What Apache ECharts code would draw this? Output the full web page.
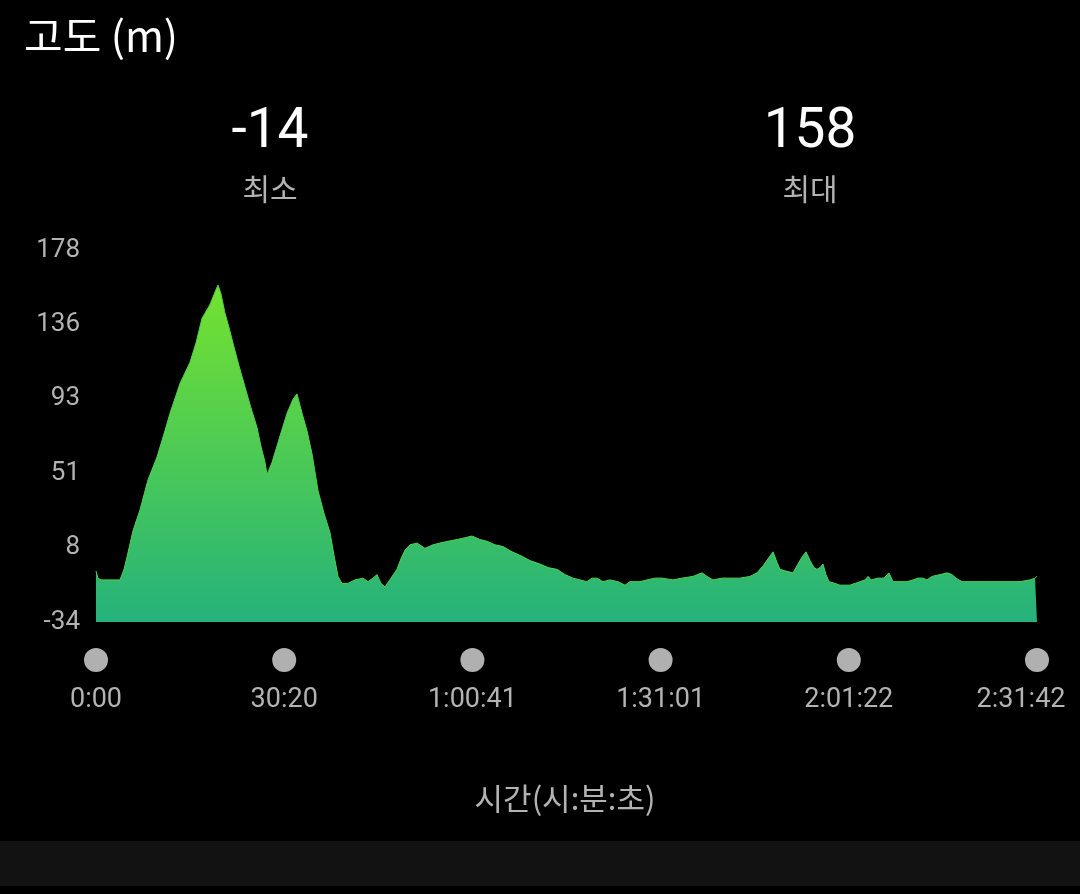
<!DOCTYPE html>
<html>
<head>
<meta charset="utf-8">
<script src="https://cdn.jsdelivr.net/npm/echarts@6/dist/echarts.min.js"></script>
<style>
html,body{margin:0;padding:0;background:#000;}
#c{width:1080px;height:894px;}
</style>
</head>
<body>
<div id="c"></div>
<script>
// elapsed time in seconds
var times = [0,19,48,135,232,271,300,358,426,503,590,667,716,813,909,967,1025,1054,1103,1151,1180,1209,1248,1286,1325,1383,1441,1499,1557,1596,1635,1654,1703,1780,1848,1906,1944,1993,2041,2089,2147,2205,2263,2302,2341,2379,2437,2505,2583,2631,2679,2718,2757,2795,2853,2911,2950,2989,3037,3105,3182,3260,3327,3405,3492,3569,3637,3714,3782,3859,3937,4024,4101,4198,4295,4372,4459,4537,4614,4682,4749,4798,4846,4904,4972,5049,5117,5165,5262,5330,5407,5475,5581,5668,5775,5862,5910,5968,6055,6133,6229,6326,6394,6452,6500,6549,6587,6616,6674,6742,6790,6829,6868,6907,6945,6974,7003,7032,7061,7090,7148,7196,7293,7390,7439,7468,7497,7516,7564,7622,7670,7709,7777,7845,7903,7951,8000,8038,8087,8164,8232,8280,8319,8377,8503,8648,8793,8938,9035,9083,9102];
// elevation in metres
var elevation = [-5,-9,-10,-10,-10,-4,3,18,30,47,60,75,85,102,114,125,139,142,147,154,158,153,142,134,125,112,100,88,77,66,57,50,57,72,85,93,96,85,75,62,41,28,17,4,-8,-12,-12,-10,-9,-11,-9,-7,-12,-14,-9,-4,2,7,10,11,8,10,11,12,13,14,15,13,12,10,9,6,4,1,-1,-3,-4,-7,-9,-10,-11,-9,-9,-11,-10,-11,-13,-11,-11,-10,-9,-9,-10,-9,-8,-6,-8,-10,-9,-9,-9,-8,-6,-2,2,6,0,-4,-5,-6,-1,3,6,1,-3,-4,-3,-1,-7,-11,-12,-13,-13,-11,-10,-8,-10,-11,-9,-9,-6,-11,-11,-11,-10,-9,-9,-10,-8,-7,-6,-7,-9,-11,-11,-11,-11,-11,-10,-9,-8];
var yTickLabels = ['-34','8','51','93','136','178'];
var xTickLabels = ['0:00','30:20','1:00:41','1:31:01','2:01:22','2:31:42'];
var minLabel = '-14', maxLabel = '158';

var data = times.map(function(t,i){return [t, elevation[i]];});
var yMin = -34, yMax = 178, yStep = (yMax - yMin) / 5;
var xMax = 9102, xStep = xMax / 5;

var chart = echarts.init(document.getElementById('c'));
var FF = 'Roboto, "Noto Sans CJK KR", sans-serif';
var KF = '"Noto Sans CJK KR", Roboto, sans-serif';
chart.setOption({
  backgroundColor: '#000',
  animation: false,
  grid: {left: 96, right: 43, top: 250, bottom: 272, containLabel: false, outerBoundsMode: 'none'},
  xAxis: {
    type: 'value', min: 0, max: xMax, interval: xStep,
    axisLine: {show: false}, axisTick: {show: false}, splitLine: {show: false},
    axisLabel: {
      margin: 26, showMinLabel: true, showMaxLabel: true, hideOverlap: false,
      formatter: function(v){
        var i = Math.round(v / xStep);
        var tag = (i === 5) ? 'tl' : 't';
        return '{dot|}\n{' + tag + '|' + xTickLabels[i] + '}';
      },
      rich: {
        dot: {width: 24, height: 24, borderRadius: 12, backgroundColor: '#b0b0b0', lineHeight: 24},
        t: {fontSize: 27, color: '#b3b3b3', fontFamily: FF, lineHeight: 56},
        tl: {fontSize: 27, color: '#b3b3b3', fontFamily: FF, lineHeight: 56, padding: [0, 32, 0, 0]}
      }
    }
  },
  yAxis: {
    type: 'value', min: yMin, max: yMax, interval: yStep,
    axisLine: {show: false}, axisTick: {show: false}, splitLine: {show: false},
    axisLabel: {
      margin: 16, fontSize: 26, color: '#b3b3b3', fontFamily: FF, padding: [5, 0, 0, 0],
      formatter: function(v){ return yTickLabels[Math.round((v - yMin) / yStep)]; }
    }
  },
  series: [{
    type: 'line', data: data, symbol: 'none', smooth: false,
    lineStyle: {width: 1, color: '#4fd24c'},
    areaStyle: {
      origin: 'start',
      opacity: 1,
      color: new echarts.graphic.LinearGradient(0, 0, 0, 1, [
        {offset: 0, color: '#74e22f'},
        {offset: 1, color: '#25b27b'}
      ])
    }
  }],
  graphic: [
    {type: 'text', left: 24, top: 15, style: {text: '고도 (m)', fontSize: 42, fill: '#ffffff', fontFamily: KF}},
    {type: 'text', x: 270, y: 133, style: {text: minLabel, fontSize: 55, fill: '#ffffff', fontFamily: FF, align: 'center', verticalAlign: 'middle'}},
    {type: 'text', x: 270, y: 189, style: {text: '최소', fontSize: 30, fill: '#b3b3b3', fontFamily: KF, align: 'center', verticalAlign: 'middle'}},
    {type: 'text', x: 810, y: 133, style: {text: maxLabel, fontSize: 55, fill: '#ffffff', fontFamily: FF, align: 'center', verticalAlign: 'middle'}},
    {type: 'text', x: 810, y: 189, style: {text: '최대', fontSize: 30, fill: '#b3b3b3', fontFamily: KF, align: 'center', verticalAlign: 'middle'}},
    {type: 'text', x: 565, y: 798, style: {text: '시간(시:분:초)', fontSize: 31, fill: '#b3b3b3', fontFamily: KF, align: 'center', verticalAlign: 'middle'}},
    {type: 'rect', shape: {x: 0, y: 841, width: 1080, height: 45}, style: {fill: '#121212'}}
  ]
});
</script>
</body>
</html>
